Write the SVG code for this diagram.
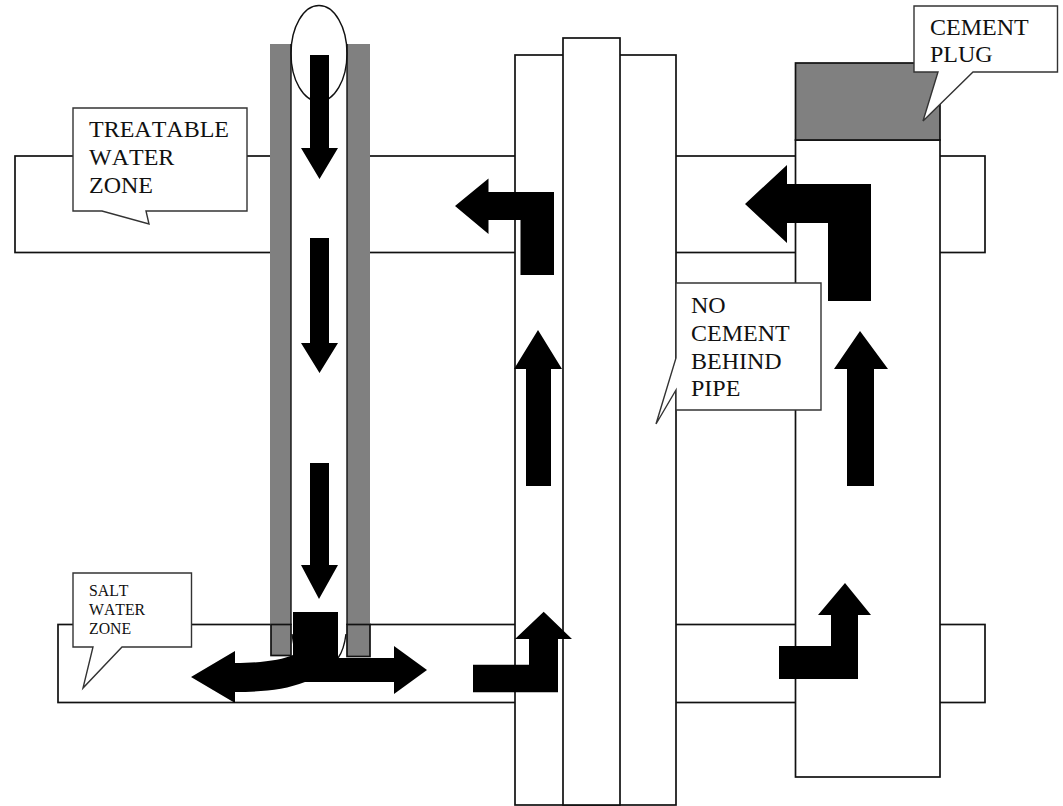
<svg xmlns="http://www.w3.org/2000/svg" width="1063" height="806" viewBox="0 0 1063 806">
<style>
.ln{fill:#fff;stroke:#111;stroke-width:1.7}
.gr{fill:#808080;stroke:none}
.gro{fill:#808080;stroke:#111;stroke-width:1.7}
.nf{fill:none;stroke:#111;stroke-width:1.4}
.ar{fill:#000;stroke:none}
.co{fill:#fff;stroke:#333;stroke-width:1.4;stroke-linejoin:miter}
text{font-family:"Liberation Serif","Times New Roman",serif;fill:#111;font-kerning:none}
.big{font-size:24px}
.sm{font-size:15.8px}
</style>
<rect width="1063" height="806" fill="#fff"/>
<g id="zones">
<rect id="treatable-zone" class="ln" x="15" y="156" width="970" height="96.500"/>
<rect id="salt-zone" class="ln" x="58" y="624.500" width="927" height="78"/>
</g>
<g id="well-1">
<rect class="gr" x="270" y="44" width="100" height="581"/>
<rect x="291" y="44" width="56" height="616" fill="#fff"/>
<rect class="gro" x="271" y="624.500" width="20" height="31"/>
<rect class="gro" x="347" y="624.500" width="23" height="32"/>
<path class="nf" d="M291 44V625M347 44V625"/>
<path class="nf" d="M346 634Q344 650 338 658M292 634Q293 640 294 646"/>
<ellipse class="nf" cx="319" cy="53.500" rx="28" ry="48"/>
</g>
<g id="well-2">
<rect class="ln" x="515" y="55" width="161" height="750"/>
<rect class="ln" x="563" y="38" width="57" height="767"/>
</g>
<g id="well-3">
<rect class="ln" x="795.500" y="140" width="144.500" height="637"/>
<rect class="gro" x="795.500" y="63" width="144.500" height="77"/>
</g>
<g id="connectors">
<path class="ar" d="M310 55H329V148H338L319.500 179L301 148H310Z"/>
<path class="ar" d="M310 238H329V343H338L319.500 373L301 343H310Z"/>
<path class="ar" d="M310 463H329V565H338L319 599L301 565H310Z"/>
<path class="ar" d="M293 612H338V658H394V646L427 670L394 694V682H305C285 690 260 692 235 692V703L191 677L235 651V663C260 663 282 660 293 655Z"/>
<path class="ar" d="M455 206L488.500 178.500V192H554V275H520.500V220H488.500V234Z"/>
<path class="ar" d="M538 330L562 369H551V486H526V369H514Z"/>
<path class="ar" d="M543.700 611.700L572 639H558V692.300H473V664.700H529V639H515Z"/>
<path class="ar" d="M745 204L787 165V184H871V301H828V223H787V243Z"/>
<path class="ar" d="M860 331L888 369H874V486H847V369H834Z"/>
<path class="ar" d="M845 583L871 615H858V679H779V646H831V615H818Z"/>
</g>
<g id="callout-treatable">
<path class="co" d="M73 108H247V211H146L149 224L102 211H73Z"/>
<text class="big" x="89" y="137">TREATABLE</text>
<text class="big" x="89" y="165">WATER</text>
<text class="big" x="89" y="193">ZONE</text>
</g>
<g id="callout-salt">
<path class="co" d="M73 573H191.500V647H122L83 688L93 647H73Z"/>
<text class="sm" x="89" y="596">SALT</text>
<text class="sm" x="89" y="615">WATER</text>
<text class="sm" x="89" y="634">ZONE</text>
</g>
<g id="callout-plug">
<path class="co" d="M914 6H1057.500V72H973L923 121L938 72H914Z"/>
<text class="big" x="930" y="35">CEMENT</text>
<text class="big" x="930" y="62">PLUG</text>
</g>
<g id="callout-no-cement">
<path class="co" d="M676 283H821V410H676V390L656 424L676 358Z"/>
<text class="big" x="691" y="312.500">NO</text>
<text class="big" x="691" y="340.500">CEMENT</text>
<text class="big" x="691" y="368.500">BEHIND</text>
<text class="big" x="691" y="396">PIPE</text>
</g>
</svg>
